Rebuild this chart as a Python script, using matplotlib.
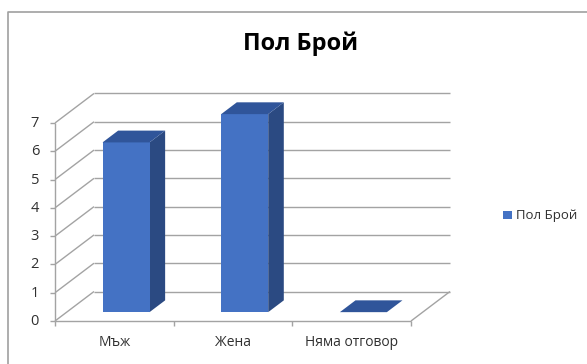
import matplotlib
matplotlib.use("Agg")
import matplotlib.pyplot as plt
from matplotlib.patches import Polygon, Rectangle
from matplotlib.lines import Line2D

plt.rcParams['font.family'] = ['Open Sans', 'DejaVu Sans']

# Data
categories = ["Мъж", "Жена", "Няма отговор"]
values = [6, 7, 0]
series_name = "Пол Брой"
title = "Пол Брой"
y_ticks = [0, 1, 2, 3, 4, 5, 6, 7]

# Layout (pixels)
W, H = 587, 364
CW = 118.67          # one category, px
VH = 28.29           # one value unit, px
DEPTH_PX = (39.0, 29.5)
ORIGIN = (55, 321)   # front-left floor corner, px from top-left

DX = DEPTH_PX[0] / CW
DY = DEPTH_PX[1] / VH
n = len(categories)
vmax = y_ticks[-1]

fig = plt.figure(figsize=(W / 100, H / 100), dpi=100)
ax_w = (n + DX) * CW
ax_h = (vmax + DY) * VH
ax = fig.add_axes([ORIGIN[0] / W, (H - ORIGIN[1]) / H, ax_w / W, ax_h / H])
ax.set_xlim(0, n + DX)
ax.set_ylim(0, vmax + DY)
ax.axis("off")


def P(x, v, z):
    """Oblique projection: category x, value v, depth z (0 front .. 1 back)."""
    return (x + z * DX, v + z * DY)


grid_c = "#A3A3A3"
text_c = "#303030"
lw = 1.0


def seg(a, b, **kw):
    ax.add_line(Line2D([a[0], b[0]], [a[1], b[1]], color=grid_c, lw=lw,
                       clip_on=False, solid_capstyle="butt", **kw))


# Back wall gridlines and left wall diagonals
for v in y_ticks:
    seg(P(0, v, 1), P(n, v, 1))
    seg(P(0, v, 0), P(0, v, 1))
# Floor edges
seg(P(0, 0, 0), P(n, 0, 0))
seg(P(n, 0, 0), P(n, 0, 1))
# Value axis
seg(P(0, 0, 0), P(0, vmax, 0))

tick_dx = 5 / CW
tick_dv = 5 / VH
for v in y_ticks:
    seg(P(-tick_dx, v, 0), P(0, v, 0))
    ax.text(-16 / CW, v - 0.5 / VH, str(v), ha="right", va="center", fontsize=10.5,
            color=text_c, clip_on=False)
for i in range(n + 1):
    seg(P(i, 0, 0), P(i, -tick_dv, 0))
for i, c in enumerate(categories):
    ax.text(i + 0.5, -22 / VH, c, ha="center", va="center", fontsize=10,
            color=text_c, clip_on=False)

# 3D bars
front_c = "#4472C4"
side_c = "#2B4A82"
top_c = "#30559A"
hw = 0.198
z0, z1 = 0.3, 0.7
for i, v in enumerate(values):
    c = i + 0.5
    xl, xr = c - hw, c + hw
    faces = [
        ([P(xr, 0, z0), P(xr, 0, z1), P(xr, v, z1), P(xr, v, z0)], side_c),
        ([P(xl, 0, z0), P(xr, 0, z0), P(xr, v, z0), P(xl, v, z0)], front_c),
        ([P(xl, v, z0), P(xr, v, z0), P(xr, v, z1), P(xl, v, z1)], top_c),
    ]
    for pts, col in faces:
        ax.add_patch(Polygon(pts, closed=True, facecolor=col, edgecolor="none",
                             clip_on=False, zorder=3))

# Title
fig.text(301 / W, 1 - 44 / H, title, ha="center", va="center", fontsize=17,
         fontweight="bold", color="black")

# Legend
fig.patches.append(Rectangle((503 / W, 1 - 219 / H), 8.5 / W, 8.5 / H,
                             transform=fig.transFigure,
                             facecolor=front_c, edgecolor="none"))
fig.text(516 / W, 1 - 215 / H, series_name, ha="left", va="center", fontsize=9.5,
         color=text_c)

# Chart area border
fig.add_artist(Line2D([7.5 / W, 7.5 / W, 1.0], [0.0, 1 - 11.5 / H, 1 - 11.5 / H],
                      transform=fig.transFigure, color="#A0A0A0", lw=1.2))

fig.savefig("out.png", dpi=100)
